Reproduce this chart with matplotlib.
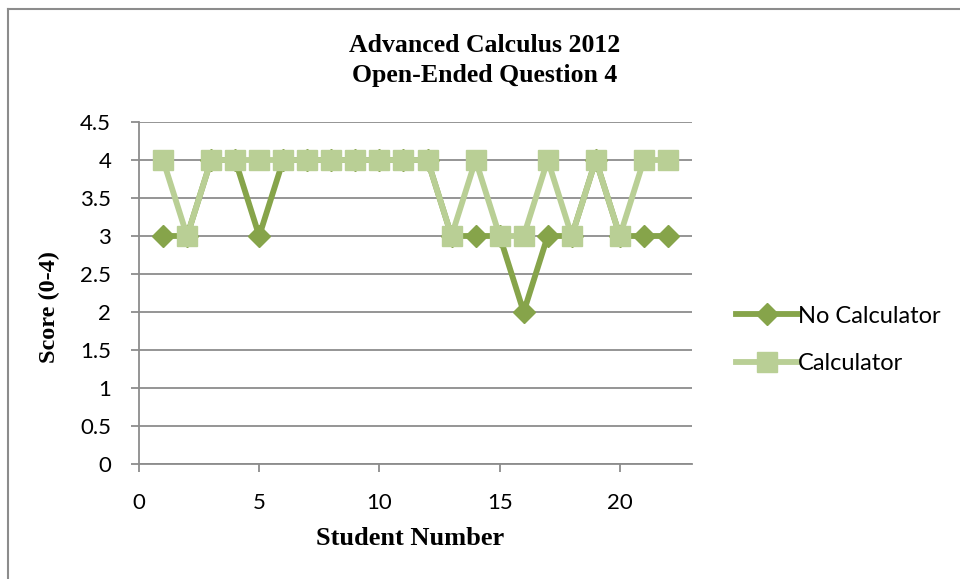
import matplotlib
matplotlib.use("Agg")
import matplotlib.pyplot as plt
from matplotlib.lines import Line2D

students = list(range(1, 23))
no_calculator = [3, 3, 4, 4, 3, 4, 4, 4, 4, 4, 4, 4, 3, 3, 3, 2, 3, 3, 4, 3, 3, 3]
calculator = [4, 3, 4, 4, 4, 4, 4, 4, 4, 4, 4, 4, 3, 4, 3, 3, 4, 3, 4, 3, 4, 4]
x_ticks = [0, 5, 10, 15, 20]
y_ticks = [0, 0.5, 1, 1.5, 2, 2.5, 3, 3.5, 4, 4.5]
series_names = ["No Calculator", "Calculator"]

dark_green = "#86A44A"
light_green = "#B9CF95"
grid_grey = "#8C8C8C"
sans = "Lato"
serif = "Liberation Serif"

fig = plt.figure(figsize=(9.6, 5.79), dpi=100)
ax = fig.add_axes([0.1448, 0.1986, 0.5760, 0.5907])

ax.plot(students, no_calculator, color=dark_green, lw=4.2, marker="D",
        markersize=11, markerfacecolor=dark_green, markeredgecolor=dark_green,
        zorder=3, solid_joinstyle="miter")
ax.plot(students, calculator, color=light_green, lw=4.2, marker="s",
        markersize=14, markerfacecolor=light_green, markeredgecolor=light_green,
        zorder=4, solid_joinstyle="miter")

ax.set_xlim(0, 23)
ax.set_ylim(0, 4.5)
ax.set_xticks(x_ticks)
ax.set_yticks(y_ticks)
ax.set_yticklabels([f"{v:g}" for v in y_ticks])
ax.yaxis.grid(True, color=grid_grey, lw=1.3)
ax.set_axisbelow(True)

for side in ["top", "right"]:
    ax.spines[side].set_visible(False)
for side in ["left", "bottom"]:
    ax.spines[side].set_color(grid_grey)
    ax.spines[side].set_linewidth(1.3)
ax.tick_params(axis="both", color=grid_grey, width=1.3, length=6,
               labelsize=16, labelcolor="black")
ax.tick_params(axis="x", pad=15)
ax.tick_params(axis="y", pad=14)
for lbl in ax.get_xticklabels() + ax.get_yticklabels():
    lbl.set_family(sans)

ax.set_xlabel("Student Number", family=serif, fontweight="bold", fontsize=19)
ax.xaxis.set_label_coords(0.49, -0.183)
ax.set_ylabel("Score (0-4)", family=serif, fontweight="bold", fontsize=17.5)
ax.yaxis.set_label_coords(-0.143, 0.459)
fig.text(0.505, 0.922, "Advanced Calculus 2012", ha="center", va="center",
         family=serif, fontweight="bold", fontsize=18.5)
fig.text(0.505, 0.869, "Open-Ended Question 4", ha="center", va="center",
         family=serif, fontweight="bold", fontsize=18.5)

handles = [
    Line2D([], [], color=dark_green, lw=4.2, marker="D", markersize=11),
    Line2D([], [], color=light_green, lw=4.2, marker="s", markersize=14),
]
fig.legend(handles, series_names, loc="center left",
           bbox_to_anchor=(0.745, 0.413), frameon=False,
           handlelength=2.6, handletextpad=0.0, labelspacing=1.12,
           prop={"family": sans, "size": 17})

# chart-area border
fig.add_artist(Line2D([0.0085, 0.0085], [0, 0.985], color=grid_grey, lw=1.5,
                      transform=fig.transFigure))
fig.add_artist(Line2D([0.0085, 1.0], [0.985, 0.985], color=grid_grey, lw=1.5,
                      transform=fig.transFigure))

fig.savefig("out.png", dpi=100)
